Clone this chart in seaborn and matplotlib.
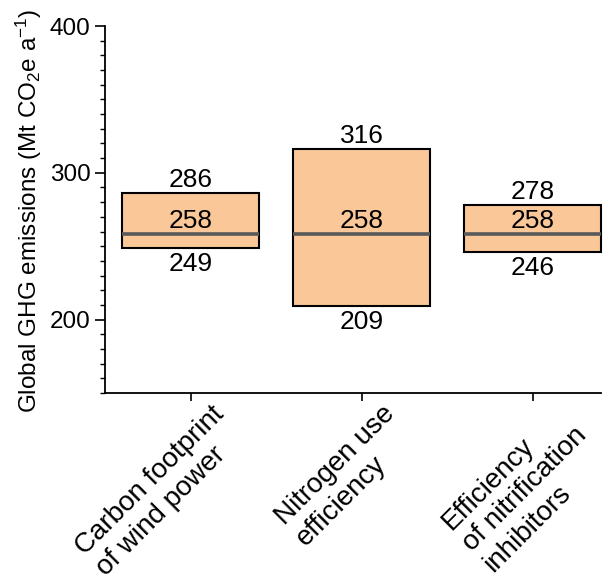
import numpy as np
import pandas as pd
import matplotlib as mpl
mpl.use('Agg')
import matplotlib.pyplot as plt
from matplotlib.ticker import MultipleLocator
from matplotlib.transforms import ScaledTranslation
import seaborn as sns

# values
categories = ['Carbon footprint\nof wind power',
              'Nitrogen use\nefficiency',
              'Efficiency\nof nitrification\ninhibitors']
low = [249, 209, 246]
mid = [258, 258, 258]
high = [286, 316, 278]

df = pd.DataFrame({'cat': categories, 'low': low, 'mid': mid, 'high': high})
df['span'] = df.high - df.low

sns.set_style('ticks')
plt.rcParams['font.family'] = ['Liberation Sans', 'DejaVu Sans']
plt.rcParams['mathtext.default'] = 'regular'
for k in ['text.color', 'axes.labelcolor', 'xtick.color', 'ytick.color', 'axes.edgecolor']:
    plt.rcParams[k] = 'black'

fig = plt.figure(figsize=(6.06, 5.78), dpi=100)
ax = fig.add_axes([0.1733, 0.3201, 0.8185, 0.6349])

sns.barplot(data=df, x='cat', y='span', bottom=df['low'], ax=ax,
            color='#FAC898', saturation=1, width=0.8,
            edgecolor='black', linewidth=1.5, clip_on=False)

xs = np.arange(len(categories))
ax.hlines(df['mid'], xs - 0.4, xs + 0.4, color='#595959', lw=2.6, zorder=3)

for i, r in df.iterrows():
    ax.annotate(str(r.high), (i, r.high), xytext=(0, 4.5), textcoords='offset points',
                ha='center', va='baseline', fontsize=19)
    ax.annotate(str(r.mid), (i, r.mid), xytext=(0, 5), textcoords='offset points',
                ha='center', va='baseline', fontsize=19)
    ax.annotate(str(r.low), (i, r.low), xytext=(0, -16.5), textcoords='offset points',
                ha='center', va='baseline', fontsize=19)

ax.set_xlim(-0.5, 2.4)
ax.set_ylim(150, 400)
ax.yaxis.set_major_locator(MultipleLocator(100))
ax.yaxis.set_minor_locator(MultipleLocator(10))
ax.set_yticks([200, 300, 400])
ax.tick_params(axis='both', direction='out', width=1.2, color='black')
ax.tick_params(axis='y', which='major', length=7.5, labelsize=17.5, pad=3)
ax.tick_params(axis='y', which='minor', length=3.5, width=1.0)
ax.tick_params(axis='x', which='major', length=5.5, labelsize=20, pad=3)
sns.despine(ax=ax)
for s in ['left', 'bottom']:
    ax.spines[s].set_linewidth(1.3)

ax.set_xlabel('')
ax.set_ylabel(r'Global GHG emissions (Mt CO$_2$e a$^{-1}$)', fontsize=17.5)
ax.yaxis.set_label_coords(-0.124, 0.496)

# labels: block's top-right corner sits near the tick, just under the axis
shift = ScaledTranslation(20 / 100, 4 / 100, fig.dpi_scale_trans)
for lab in ax.get_xticklabels():
    lab.set_rotation(45)
    lab.set_ha('right')
    lab.set_va('top')
    lab.set_rotation_mode('anchor')
    lab.set_multialignment('left')
    lab.set_linespacing(1.2)
    lab.set_transform(lab.get_transform() + shift)

fig.savefig('out.png', dpi=100)
